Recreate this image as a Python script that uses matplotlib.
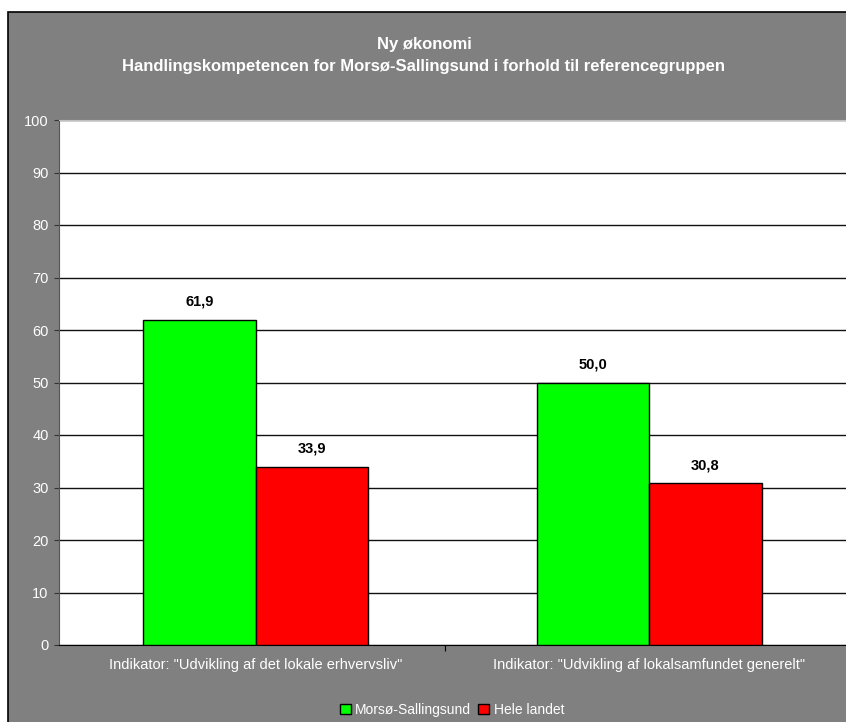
import matplotlib.pyplot as plt
from matplotlib.patches import Rectangle

plt.rcParams['font.family'] = ['Liberation Sans', 'DejaVu Sans']

# data
categories = ['Indikator: "Udvikling af det lokale erhvervsliv"',
              'Indikator: "Udvikling af lokalsamfundet generelt"']
series_names = ['Morsø-Sallingsund', 'Hele landet']
morso = [61.9, 50.0]
hele_landet = [33.9, 30.8]
colors = ['#00FF00', '#FF0000']

fig = plt.figure(figsize=(8.46, 7.22), dpi=100)
fig.patch.set_facecolor('white')

# grey chart frame behind the plot area
frame = Rectangle((8 / 846, -0.01), 1, 1 - 12 / 722 + 0.01, transform=fig.transFigure,
                  facecolor='#808080', edgecolor='black', linewidth=1.2, zorder=-10)
fig.patches.append(frame)

ax = fig.add_axes([59 / 846, 1 - 645 / 722, 1 - 59 / 846, 525 / 722])
ax.set_facecolor('white')

w = 1 / 3.5
x = range(len(categories))
for i, vals in enumerate([morso, hele_landet]):
    pos = [k + (i - 0.5) * w for k in x]
    bars = ax.bar(pos, vals, width=w, color=colors[i], edgecolor='black',
                  linewidth=1, label=series_names[i], zorder=3)
    for b, v in zip(bars, vals):
        ax.annotate(f'{v:.1f}'.replace('.', ','), (b.get_x() + b.get_width() / 2, v),
                    xytext=(0, 8), textcoords='offset points', ha='center',
                    va='bottom', fontsize=10.5, fontweight='bold', color='black')

ax.set_xlim(-0.5, 1.5)
ax.set_ylim(0, 100)
ax.set_yticks(range(0, 101, 10))
ax.yaxis.grid(True, color='#111111', linewidth=1)
ax.set_axisbelow(True)
ax.set_xticks([0.48])
ax.set_xticklabels([''])
ax.tick_params(axis='x', length=4, color='black')
ax.tick_params(axis='y', length=3.5, colors='white', labelsize=10.5, pad=4)
ax.tick_params(axis='y', color='#333333')
for k, c in enumerate(categories):
    ax.text(k, -2.5, c, ha='center', va='top', color='white', fontsize=10.5)

ax.spines['top'].set_color('#c0c0c0')
ax.spines['right'].set_visible(False)
ax.spines['left'].set_color('#555555')
ax.spines['bottom'].set_color('black')

fig.text(424 / 846, 1 - 44 / 722, 'Ny økonomi', ha='center', va='center',
         color='white', fontsize=12, fontweight='bold')
fig.text(424 / 846, 1 - 66 / 722,
         'Handlingskompetencen for Morsø-Sallingsund i forhold til referencegruppen',
         ha='center', va='center', color='white', fontsize=12, fontweight='bold')

leg = fig.legend(loc='center', bbox_to_anchor=(452 / 846, 1 - 710 / 722), ncol=2,
                 frameon=False, fontsize=10, handlelength=0.8, handleheight=0.8,
                 handletextpad=0.3, columnspacing=0.5)
for t in leg.get_texts():
    t.set_color('white')

fig.savefig('out.png', dpi=100)
